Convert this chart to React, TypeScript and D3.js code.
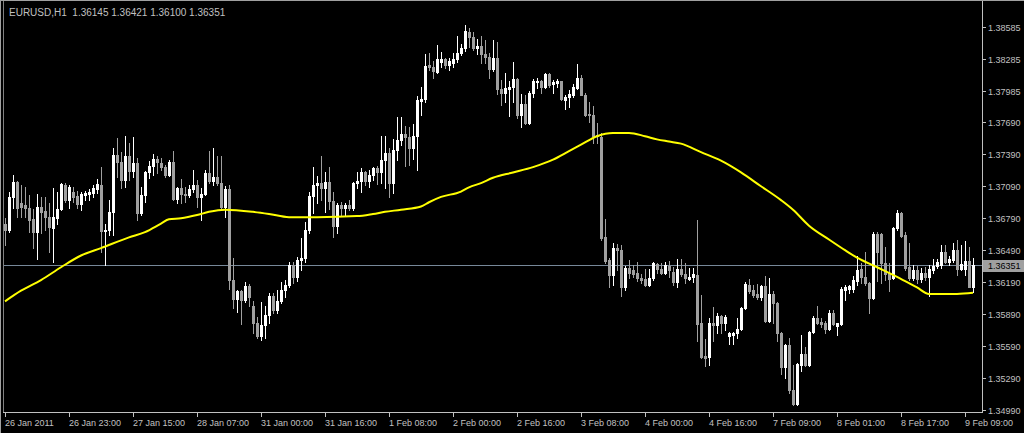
import React from 'react';
import * as d3 from 'd3';

const W = 1024;
const H = 433;
const PLOT_LEFT = 3;
const PLOT_RIGHT = 982;
const PLOT_BOTTOM = 412;

const titleText = 'EURUSD,H1  1.36145 1.36421 1.36100 1.36351';
const bidPrice = 1.36351;
const bidLabel = '1.36351';

const priceTicks = [1.38585, 1.38285, 1.37985, 1.3769, 1.3739, 1.3709, 1.3679, 1.3649, 1.3619, 1.3589, 1.3559, 1.3529, 1.3499];
const priceTickLabels = ['1.38585', '1.38285', '1.37985', '1.37690', '1.37390', '1.37090', '1.36790', '1.36490', '1.36190', '1.35890', '1.35590', '1.35290', '1.34990'];

const timeTickIndex = [0, 16, 32, 48, 64, 80, 96, 112, 128, 144, 160, 176, 192, 208, 224, 240];
const timeTickLabels = ['26 Jan 2011', '26 Jan 23:00', '27 Jan 15:00', '28 Jan 07:00', '31 Jan 00:00', '31 Jan 16:00', '1 Feb 08:00', '2 Feb 00:00', '2 Feb 16:00', '3 Feb 08:00', '4 Feb 00:00', '4 Feb 16:00', '7 Feb 09:00', '8 Feb 01:00', '8 Feb 17:00', '9 Feb 09:00'];

const open = [
1.3674,1.3668,1.3699,1.3713,1.3693,1.3691,1.3689,1.3678,1.3666,1.3690,
1.3686,1.3680,1.3670,1.3679,1.3688,1.3710,1.3696,1.3704,1.3700,1.3692,
1.3701,1.3702,1.3703,1.3706,1.3710,1.3667,1.3668,1.3685,1.3738,1.3732,
1.3715,1.3737,1.3723,1.3731,1.3684,1.3701,1.3722,1.3728,1.3735,1.3731,
1.3727,1.3720,1.3732,1.3697,1.3707,1.3702,1.3701,1.3706,1.3710,1.3699,
1.3702,1.3721,1.3714,1.3718,1.3712,1.3690,1.3706,1.3621,1.3603,1.3611,
1.3602,1.3615,1.3597,1.3581,1.3568,1.3579,1.3588,1.3606,1.3593,1.3601,
1.3612,1.3616,1.3635,1.3624,1.3640,1.3642,1.3668,1.3700,1.3710,1.3712,
1.3707,1.3713,1.3695,1.3672,1.3691,1.3689,1.3691,1.3689,1.3712,1.3714,
1.3722,1.3714,1.3720,1.3726,1.3722,1.3734,1.3740,1.3712,1.3743,1.3752,
1.3758,1.3755,1.3745,1.3756,1.3789,1.3791,1.3823,1.3821,1.3816,1.3826,
1.3828,1.3823,1.3825,1.3828,1.3834,1.3839,1.3854,1.3849,1.3839,1.3841,
1.3833,1.3830,1.3819,1.3829,1.3800,1.3797,1.3800,1.3802,1.3810,1.3776,
1.3786,1.3768,1.3797,1.3807,1.3808,1.3802,1.3814,1.3805,1.3806,1.3808,
1.3790,1.3793,1.3795,1.3801,1.3811,1.3795,1.3777,1.3776,1.3757,1.3755,
1.3661,1.3640,1.3626,1.3651,1.3649,1.3614,1.3632,1.3630,1.3628,1.3623,
1.3622,1.3616,1.3623,1.3636,1.3631,1.3628,1.3634,1.3629,1.3619,1.3631,
1.3627,1.3622,1.3624,1.3626,1.3581,1.3550,1.3549,1.3581,1.3579,1.3587,
1.3581,1.3568,1.3569,1.3571,1.3575,1.3595,1.3616,1.3612,1.3608,1.3605,
1.3615,1.3583,1.3608,1.3599,1.3571,1.3539,1.3560,1.3518,1.3505,1.3541,
1.3552,1.3541,1.3572,1.3585,1.3582,1.3581,1.3575,1.3590,1.3578,1.3580,
1.3612,1.3613,1.3613,1.3620,1.3631,1.3624,1.3618,1.3604,1.3664,1.3664,
1.3637,1.3628,1.3623,1.3670,1.3684,1.3663,1.3633,1.3623,1.3630,1.3622,
1.3628,1.3624,1.3630,1.3634,1.3635,1.3647,1.3638,1.3640,1.3649,1.3631,
1.3631,1.3639,1.36145];

const high = [
1.3679,1.3704,1.3720,1.3714,1.3710,1.3708,1.3701,1.3688,1.3702,1.3699,
1.3699,1.3693,1.3707,1.3704,1.3712,1.3712,1.3710,1.3708,1.3705,1.3704,
1.3705,1.3706,1.3710,1.3716,1.3727,1.3674,1.3696,1.3745,1.3754,1.3741,
1.3756,1.3750,1.3755,1.3736,1.3708,1.3723,1.3733,1.3739,1.3737,1.3736,
1.3729,1.3734,1.3742,1.3708,1.3716,1.3708,1.3710,1.3724,1.3715,1.3707,
1.3724,1.3742,1.3745,1.3737,1.3737,1.3709,1.3710,1.3642,1.3612,1.3612,
1.3619,1.3617,1.3601,1.3586,1.3600,1.3597,1.3609,1.3609,1.3612,1.3619,
1.3621,1.3638,1.3638,1.3643,1.3660,1.3675,1.3704,1.3727,1.3719,1.3737,
1.3722,1.3727,1.3704,1.3693,1.3694,1.3693,1.3696,1.3713,1.3722,1.3726,
1.3723,1.3724,1.3727,1.3728,1.3756,1.3756,1.3745,1.3753,1.3774,1.3774,
1.3766,1.3765,1.3767,1.3794,1.3802,1.3833,1.3834,1.3827,1.3842,1.3835,
1.3829,1.3829,1.3834,1.3850,1.3843,1.3860,1.3858,1.3854,1.3847,1.3850,
1.3846,1.3834,1.3846,1.3844,1.3809,1.3815,1.3808,1.3826,1.3811,1.3796,
1.3795,1.3798,1.3810,1.3811,1.3809,1.3815,1.3815,1.3809,1.3810,1.3808,
1.3795,1.3799,1.3805,1.3824,1.3813,1.3797,1.3788,1.3784,1.3768,1.3759,
1.3678,1.3642,1.3656,1.3655,1.3654,1.3634,1.3640,1.3635,1.3638,1.3627,
1.3631,1.3631,1.3638,1.3637,1.3637,1.3638,1.3639,1.3633,1.3641,1.3641,
1.3637,1.3632,1.3632,1.3677,1.3607,1.3566,1.3585,1.3596,1.3590,1.3588,
1.3588,1.3572,1.3572,1.3585,1.3596,1.3619,1.3622,1.3616,1.3617,1.3616,
1.3625,1.3623,1.3611,1.3600,1.3572,1.3561,1.3567,1.3541,1.3543,1.3569,
1.3558,1.3573,1.3587,1.3597,1.3585,1.3583,1.3593,1.3593,1.3581,1.3614,
1.3616,1.3616,1.3625,1.3644,1.3637,1.3647,1.3619,1.3666,1.3666,1.3665,
1.3652,1.3637,1.3671,1.3687,1.3685,1.3666,1.3656,1.3635,1.3634,1.3632,
1.3633,1.3635,1.3641,1.3641,1.3654,1.3654,1.3644,1.3656,1.3659,1.3654,
1.3658,1.3652,1.36421];

const low = [
1.3654,1.3666,1.3689,1.3680,1.3680,1.3680,1.3666,1.3651,1.3641,1.3665,
1.3668,1.3647,1.3638,1.3674,1.3687,1.3694,1.3689,1.3694,1.3689,1.3687,
1.3696,1.3696,1.3699,1.3703,1.3647,1.3635,1.3663,1.3663,1.3718,1.3707,
1.3708,1.3715,1.3718,1.3677,1.3682,1.3694,1.3717,1.3720,1.3721,1.3724,
1.3718,1.3719,1.3696,1.3693,1.3693,1.3694,1.3699,1.3704,1.3690,1.3677,
1.3701,1.3712,1.3710,1.3710,1.3689,1.3680,1.3613,1.3595,1.3591,1.3580,
1.3600,1.3597,1.3571,1.3567,1.3565,1.3567,1.3581,1.3590,1.3590,1.3599,
1.3605,1.3614,1.3618,1.3620,1.3630,1.3638,1.3665,1.3684,1.3693,1.3696,
1.3685,1.3688,1.3661,1.3665,1.3682,1.3682,1.3687,1.3687,1.3707,1.3704,
1.3710,1.3708,1.3715,1.3711,1.3712,1.3707,1.3699,1.3703,1.3734,1.3748,
1.3728,1.3729,1.3735,1.3724,1.3776,1.3788,1.3818,1.3811,1.3815,1.3821,
1.3820,1.3818,1.3821,1.3826,1.3832,1.3836,1.3840,1.3837,1.3833,1.3825,
1.3825,1.3811,1.3817,1.3796,1.3785,1.3788,1.3775,1.3788,1.3773,1.3765,
1.3767,1.3767,1.3793,1.3801,1.3797,1.3801,1.3802,1.3797,1.3802,1.3790,
1.3782,1.3783,1.3793,1.3800,1.3795,1.3775,1.3769,1.3750,1.3750,1.3659,
1.3637,1.3614,1.3616,1.3630,1.3606,1.3612,1.3623,1.3624,1.3620,1.3618,
1.3615,1.3615,1.3621,1.3628,1.3627,1.3627,1.3624,1.3616,1.3614,1.3625,
1.3618,1.3621,1.3619,1.3564,1.3548,1.3540,1.3541,1.3564,1.3571,1.3571,
1.3574,1.3561,1.3561,1.3567,1.3574,1.3594,1.3609,1.3605,1.3603,1.3602,
1.3582,1.3582,1.3581,1.3564,1.3533,1.3529,1.3515,1.3504,1.3504,1.3536,
1.3540,1.3540,1.3571,1.3580,1.3577,1.3571,1.3574,1.3579,1.3569,1.3579,
1.3602,1.3609,1.3610,1.3616,1.3618,1.3616,1.3590,1.3603,1.3620,1.3618,
1.3621,1.3611,1.3622,1.3668,1.3661,1.3630,1.3621,1.3621,1.3618,1.3619,
1.3621,1.3606,1.3628,1.3632,1.3632,1.3637,1.3635,1.3638,1.3626,1.3630,
1.3626,1.3614,1.36100];

const close = [
1.3668,1.3699,1.3713,1.3689,1.3690,1.3689,1.3677,1.3666,1.3690,1.3685,
1.3680,1.3671,1.3680,1.3688,1.3711,1.3696,1.3708,1.3699,1.3692,1.3702,
1.3703,1.3704,1.3707,1.3711,1.3667,1.3668,1.3685,1.3738,1.3732,1.3715,
1.3737,1.3723,1.3731,1.3684,1.3701,1.3722,1.3728,1.3735,1.3732,1.3727,
1.3720,1.3732,1.3697,1.3707,1.3702,1.3701,1.3706,1.3710,1.3699,1.3702,
1.3721,1.3714,1.3718,1.3712,1.3690,1.3706,1.3621,1.3603,1.3611,1.3602,
1.3615,1.3605,1.3581,1.3568,1.3579,1.3588,1.3606,1.3593,1.3601,1.3612,
1.3616,1.3635,1.3624,1.3640,1.3642,1.3668,1.3700,1.3710,1.3712,1.3707,
1.3713,1.3695,1.3672,1.3691,1.3689,1.3691,1.3689,1.3712,1.3714,1.3722,
1.3714,1.3720,1.3726,1.3722,1.3734,1.3740,1.3712,1.3743,1.3752,1.3758,
1.3755,1.3745,1.3756,1.3790,1.3791,1.3822,1.3821,1.3817,1.3828,1.3828,
1.3823,1.3827,1.3828,1.3834,1.3839,1.3855,1.3849,1.3839,1.3841,1.3833,
1.3830,1.3819,1.3829,1.3800,1.3797,1.3801,1.3802,1.3810,1.3776,1.3786,
1.3768,1.3797,1.3808,1.3808,1.3802,1.3814,1.3804,1.3807,1.3808,1.3791,
1.3793,1.3796,1.3802,1.3811,1.3795,1.3776,1.3776,1.3756,1.3756,1.3660,
1.3639,1.3626,1.3651,1.3649,1.3614,1.3632,1.3628,1.3627,1.3623,1.3621,
1.3616,1.3623,1.3637,1.3631,1.3628,1.3635,1.3630,1.3619,1.3631,1.3627,
1.3623,1.3624,1.3627,1.3580,1.3549,1.3548,1.3581,1.3579,1.3587,1.3581,
1.3586,1.3571,1.3571,1.3575,1.3595,1.3617,1.3611,1.3607,1.3605,1.3615,
1.3583,1.3608,1.3599,1.3571,1.3539,1.3560,1.3518,1.3505,1.3542,1.3552,
1.3541,1.3572,1.3585,1.3581,1.3580,1.3575,1.3590,1.3580,1.3581,1.3613,
1.3614,1.3615,1.3621,1.3630,1.3624,1.3618,1.3604,1.3664,1.3647,1.3637,
1.3627,1.3622,1.3670,1.3684,1.3662,1.3632,1.3623,1.3630,1.3622,1.3628,
1.3624,1.3631,1.3634,1.3638,1.3647,1.3638,1.3641,1.3649,1.3631,1.3636,
1.3639,1.3614,1.36351];

// moving average (yellow) sampled at bar indices
const maIndex = [0, 4, 9, 14, 19, 24, 31, 35, 39, 41, 44, 48, 51, 55, 62, 66, 71, 78, 88, 92, 95, 99, 104, 106, 109, 114, 116, 119, 122, 127, 132, 137, 141, 144, 148, 152, 156, 160, 163, 166, 169, 174, 179, 184, 189, 194, 197, 201, 206, 210, 213, 218, 223, 228, 231, 238, 242];
const maValue = [1.3601, 1.3611, 1.3621, 1.3633, 1.3644, 1.3651, 1.3661, 1.3666, 1.3674, 1.3678, 1.3679, 1.3682, 1.3685, 1.3687, 1.3685, 1.3683, 1.3680, 1.3680, 1.3681, 1.3683, 1.3685, 1.3687, 1.3690, 1.3694, 1.3699, 1.3704, 1.3708, 1.3712, 1.3717, 1.3722, 1.3727, 1.3734, 1.3742, 1.3748, 1.3756, 1.3759, 1.3759, 1.3756, 1.3753, 1.3751, 1.3749, 1.3741, 1.3733, 1.3722, 1.3709, 1.3696, 1.3687, 1.3672, 1.3659, 1.3649, 1.3642, 1.3633, 1.3624, 1.3614, 1.3608, 1.3608, 1.3609];

const BULL = '#ffffff';
const BEAR = '#a0a0a0';
const TEXT = '#c0c0c0';
const AXIS = '#c0c0c0';
const BID = '#778899';
const MA = '#ffff00';
const FONT = '"Liberation Sans", Arial, sans-serif';

export default function App() {
  const n = open.length;
  const x = d3.scaleLinear().domain([0, n - 1]).range([5, 5 + 4 * (n - 1)]);
  const y = d3.scaleLinear().domain([1.3499, 1.38585]).range([410, 27]);

  const candles = d3.range(n).map((i) => {
    const xc = Math.round(x(i));
    const o = open[i], c = close[i], h = high[i], l = low[i];
    const bull = c >= o;
    const col = bull ? BULL : BEAR;
    const yh = Math.round(y(h));
    const yl = Math.round(y(l));
    const yt = Math.round(y(Math.max(o, c)));
    const yb = Math.round(y(Math.min(o, c)));
    return (
      <g key={i} fill={col}>
        <rect x={xc} y={yh} width={1} height={Math.max(1, yl - yh + 1)} />
        <rect x={xc - 1} y={yt} width={3} height={Math.max(1, yb - yt + 1)} />
      </g>
    );
  });

  const maLine = d3
    .line<number>()
    .x((d) => x(maIndex[d]))
    .y((d) => y(maValue[d]))
    .curve(d3.curveMonotoneX)(d3.range(maIndex.length)) as string;

  const bidY = Math.round(y(bidPrice)) + 0.5;

  return (
    <svg width={W} height={H} style={{ position: 'absolute', left: 0, top: 0, background: '#000' }}>
      <rect x={0} y={0} width={W} height={H} fill="#000" />
      <defs>
        <clipPath id="plot">
          <rect x={PLOT_LEFT + 1} y={2} width={PLOT_RIGHT - PLOT_LEFT - 1} height={PLOT_BOTTOM - 2} />
        </clipPath>
      </defs>
      {/* frame */}
      <rect x={0} y={0} width={W} height={1} fill="#a0a0a0" />
      <rect x={0} y={0} width={1} height={H} fill="#a0a0a0" />
      <rect x={PLOT_LEFT} y={1} width={1} height={PLOT_BOTTOM} fill="#808080" />

      <g clipPath="url(#plot)" shapeRendering="crispEdges">
        <line x1={PLOT_LEFT} x2={PLOT_RIGHT} y1={bidY} y2={bidY} stroke={BID} strokeWidth={1} />
        {candles}
      </g>
      <g clipPath="url(#plot)">
        <path d={maLine} fill="none" stroke={MA} strokeWidth={2} />
      </g>

      {/* axes */}
      <g shapeRendering="crispEdges">
        <line x1={PLOT_RIGHT + 0.5} x2={PLOT_RIGHT + 0.5} y1={1} y2={PLOT_BOTTOM + 1} stroke={AXIS} />
        <line x1={PLOT_LEFT} x2={PLOT_RIGHT + 1} y1={PLOT_BOTTOM + 0.5} y2={PLOT_BOTTOM + 0.5} stroke={AXIS} />
        {priceTicks.map((p, k) => {
          const yy = Math.round(y(p)) + 0.5;
          return <line key={'pt' + k} x1={PLOT_RIGHT} x2={PLOT_RIGHT + 4} y1={yy} y2={yy} stroke={AXIS} />;
        })}
        {timeTickIndex.map((t, k) => {
          const xx = Math.round(x(t)) + 0.5;
          return <line key={'tt' + k} x1={xx} x2={xx} y1={PLOT_BOTTOM} y2={PLOT_BOTTOM + 5} stroke={AXIS} />;
        })}
      </g>
      <g fontFamily={FONT} fontSize={9} fill={TEXT}>
        {priceTicks.map((p, k) => (
          <text key={'pl' + k} x={988} y={Math.round(y(p)) + 3.5}>
            {priceTickLabels[k]}
          </text>
        ))}
        {timeTickIndex.map((t, k) => (
          <text key={'tl' + k} x={Math.round(x(t))} y={426}>
            {timeTickLabels[k]}
          </text>
        ))}
      </g>
      {/* bid label */}
      <rect x={PLOT_RIGHT + 1} y={bidY - 6} width={W - PLOT_RIGHT - 1} height={12} fill="#a0a0a0" shapeRendering="crispEdges" />
      <text x={988} y={bidY + 3.5} fontFamily={FONT} fontSize={9} fill="#000">
        {bidLabel}
      </text>

      <text x={9} y={16} fontFamily={FONT} fontSize={10} fill={TEXT} style={{ whiteSpace: 'pre' }}>
        {titleText}
      </text>
    </svg>
  );
}
